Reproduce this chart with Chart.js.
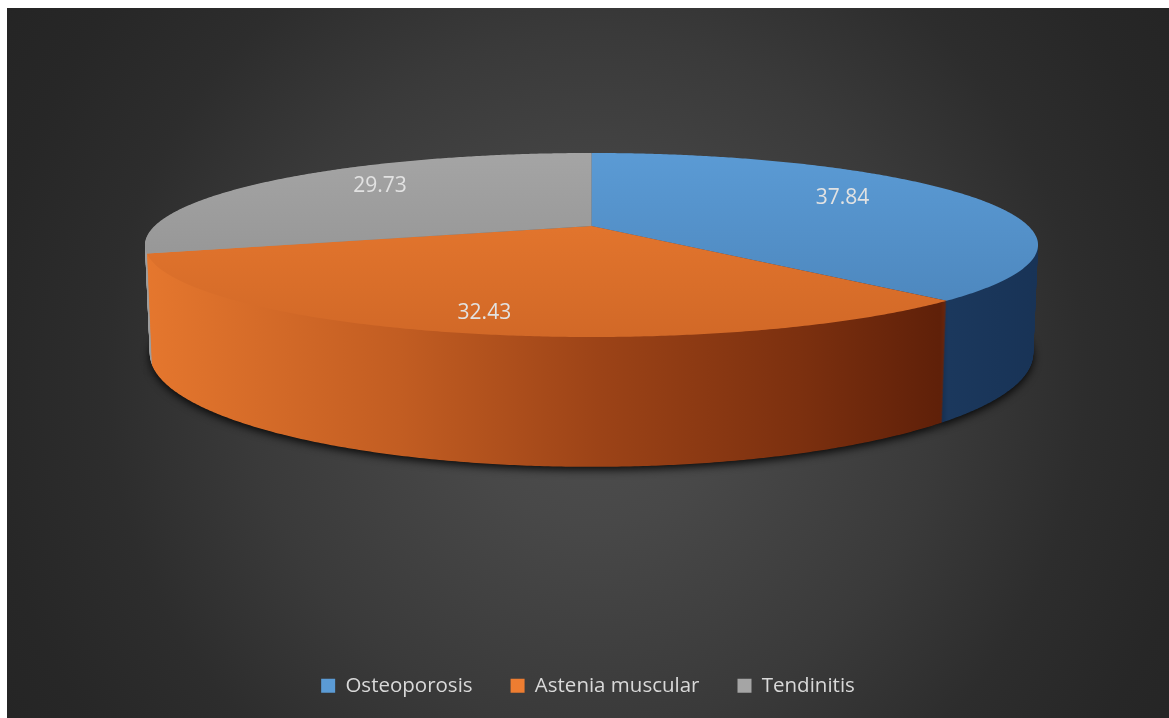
<!DOCTYPE html>
<html>
<head>
<meta charset="utf-8">
<script src="https://cdn.jsdelivr.net/npm/chart.js@4.4.1/dist/chart.umd.min.js"></script>
<style>
  html, body { margin: 0; padding: 0; background: #ffffff; width: 1169px; height: 718px; overflow: hidden; }
  #frame { position: absolute; left: 7px; top: 8px; width: 1162px; height: 710px; }
</style>
</head>
<body>
<div id="frame"><canvas id="chart"></canvas></div>
<script>
// ---- data ----
const categories = ['Osteoporosis', 'Astenia muscular', 'Tendinitis'];
const percentages = [37.84, 32.43, 29.73];
const sliceColors = ['#5b9bd5', '#ed7d31', '#a5a5a5'];

// ---- camera used to tilt the pie into a 3-D disc ----
const VIEW = {
  centerX: 584.5,               // canvas position of the disc centre
  centerY: 218,
  scale: 436.9,                 // projected radius at the centre depth
  elevation: 11.63 * Math.PI / 180,
  distance: 4.744,              // camera distance, in radii
  thickness: 0.2467             // disc thickness, in radii
};
const TAU = Math.PI * 2;

function project(nx, nz, hn) {
  const ca = Math.cos(VIEW.elevation), sa = Math.sin(VIEW.elevation);
  const w = 1 + (nz * ca + hn * sa) / VIEW.distance;
  return {
    x: VIEW.centerX + VIEW.scale * nx / w,
    y: VIEW.centerY - VIEW.scale * (nz * sa - hn * ca) / w
  };
}

// Wraps the canvas context so an arc element's flat path is drawn on the tilted disc
function discContext(ctx, el, hn, fillOverride) {
  const toScreen = (x, y) => project((x - el.x) / el.outerRadius, -(y - el.y) / el.outerRadius, hn);
  return new Proxy({}, {
    get(_, prop) {
      if (prop === 'arc') {
        return (x, y, r, a0, a1, ccw) => {
          let sweep = ccw ? a0 - a1 : a1 - a0;
          if (!(sweep >= TAU)) sweep = ((sweep % TAU) + TAU) % TAU;
          else sweep = TAU;
          if (ccw) sweep = -sweep;
          const n = Math.max(2, Math.ceil(Math.abs(sweep) / 0.008));
          for (let i = 0; i <= n; i++) {
            const a = a0 + sweep * i / n;
            const p = toScreen(x + r * Math.cos(a), y + r * Math.sin(a));
            ctx.lineTo(p.x, p.y);
          }
        };
      }
      if (prop === 'moveTo' || prop === 'lineTo') {
        return (x, y) => { const p = toScreen(x, y); ctx[prop](p.x, p.y); };
      }
      if (prop === 'translate') return () => {};
      const v = ctx[prop];
      return typeof v === 'function' ? v.bind(ctx) : v;
    },
    set(_, prop, value) {
      if (prop === 'fillStyle' && fillOverride) value = fillOverride;
      ctx[prop] = value;
      return true;
    }
  });
}

function hexRgb(hex) {
  const n = parseInt(hex.slice(1), 16);
  return [(n >> 16) & 255, (n >> 8) & 255, n & 255];
}
// darken with a slight saturation gain, like a lit surface falling into shade
function shade(hex, m) {
  return 'rgb(' + hexRgb(hex).map(c => {
    const e = 1 + (1 - c / 255) * 1.2;
    return Math.max(0, Math.min(255, Math.round(c * Math.pow(m, e))));
  }).join(',') + ')';
}

function wallFill(ctx, color) {
  const x0 = 138, x1 = 1033;
  const g = ctx.createLinearGradient(x0, 0, x1, 0);
  const stops = [[138, 0.97], [393, 0.83], [593, 0.68], [793, 0.55], [933, 0.43], [941, 0.5], [1033, 0.47]];
  stops.forEach(([x, m]) => g.addColorStop((x - x0) / (x1 - x0), shade(color, m)));
  return g;
}

function topFill(ctx, color) {
  const g = ctx.createLinearGradient(0, 142, 0, 332);
  g.addColorStop(0, shade(color, 1.0));
  g.addColorStop(1, shade(color, 0.89));
  return g;
}

const background = {
  id: 'background',
  beforeDraw(chart) {
    const { ctx, width, height } = chart;
    const g = ctx.createRadialGradient(588, 372, 0, 588, 372, 720);
    g.addColorStop(0, '#4f4f4f');
    g.addColorStop(0.2, '#484848');
    g.addColorStop(0.48, '#3a3a3a');
    g.addColorStop(0.68, '#2d2d2d');
    g.addColorStop(0.85, '#272727');
    g.addColorStop(1, '#242424');
    ctx.save();
    ctx.fillStyle = g;
    ctx.fillRect(0, 0, width, height);
    ctx.restore();
  }
};

const disc3d = {
  id: 'disc3d',
  beforeDatasetsDraw(chart) {
    const ctx = chart.ctx;
    const arcs = chart.getDatasetMeta(0).data;

    // soft shadow under the disc
    ctx.save();
    ctx.shadowColor = 'rgba(0,0,0,0.85)';
    ctx.shadowBlur = 9;
    ctx.shadowOffsetY = 3;
    arcs.forEach(el => el.draw(discContext(ctx, el, VIEW.thickness, '#141414')));
    ctx.restore();

    // side wall, built up from the bottom face
    const walls = arcs.map((el, i) => wallFill(ctx, sliceColors[i]));
    const steps = 170;
    for (let k = steps; k >= 1; k--) {
      const hn = VIEW.thickness * k / steps;
      arcs.forEach((el, i) => el.draw(discContext(ctx, el, hn, walls[i])));
    }

    // top face
    arcs.forEach((el, i) => el.draw(discContext(ctx, el, 0, topFill(ctx, sliceColors[i]))));

    // value labels
    ctx.save();
    ctx.font = '21px "Open Sans"';
    ctx.fillStyle = '#e2e2e2';
    ctx.textAlign = 'center';
    ctx.textBaseline = 'middle';
    arcs.forEach((el, i) => {
      const mid = (el.startAngle + el.endAngle) / 2;
      const nearness = Math.max(0, Math.sin(mid));
      const rho = 0.65 + 0.17 * nearness;
      const p = project(rho * Math.cos(mid), -rho * Math.sin(mid), 0);
      ctx.fillText(percentages[i].toFixed(2), p.x, p.y - 8 + 12 * nearness);
    });
    ctx.restore();
    return false;
  }
};

new Chart(document.getElementById('chart'), {
  type: 'pie',
  data: {
    labels: categories,
    datasets: [{
      data: percentages,
      backgroundColor: sliceColors,
      borderWidth: 0,
      offset: 0,
      hoverOffset: 0
    }]
  },
  options: {
    responsive: true,
    maintainAspectRatio: false,
    devicePixelRatio: 1,
    animation: false,
    events: [],
    layout: { padding: { bottom: 12 } },
    plugins: {
      tooltip: { enabled: false },
      legend: {
        position: 'bottom',
        labels: {
          color: '#d9d9d9',
          font: { family: 'Open Sans', size: 20.5 },
          boxWidth: 14,
          boxHeight: 14,
          padding: 38
        }
      }
    }
  },
  plugins: [background, disc3d]
});
</script>
</body>
</html>
